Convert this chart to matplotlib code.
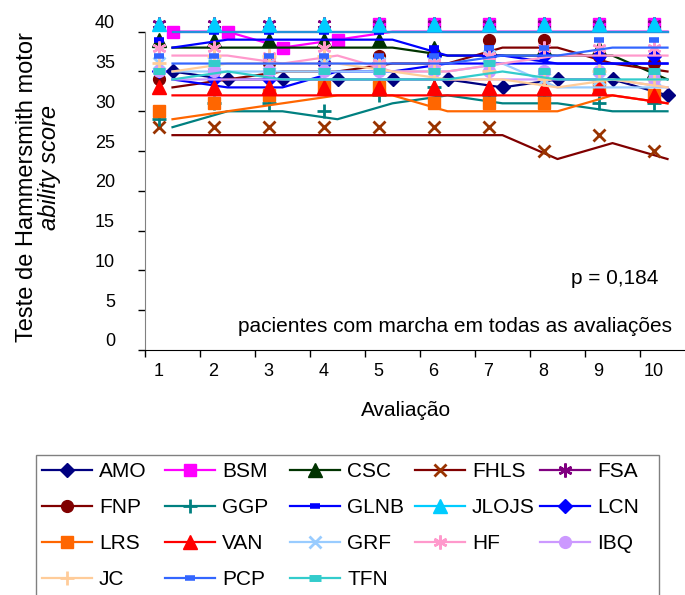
import numpy as np
import matplotlib
matplotlib.use("Agg")
import matplotlib.pyplot as plt
from matplotlib.lines import Line2D
from matplotlib.patches import Rectangle
from matplotlib.transforms import offset_copy

plt.rcParams['font.family'] = ['Liberation Sans', 'DejaVu Sans']

avaliacoes = [1, 2, 3, 4, 5, 6, 7, 8, 9, 10]
y_ticks = [0, 5, 10, 15, 20, 25, 30, 35, 40]

AMO = [35, 34, 34, 34, 34, 34, 33, 34, 34, 32]
BSM = [40, 40, 38, 39, 40, 40, 40, 40, 40, 40]
CSC = [38, 38, 38, 38, 38, 37, 37, 37, 37, 34]
FHLS = [27, 27, 27, 27, 27, 27, 27, 24, 26, 24]
FSA = [40, 40, 40, 40, 40, 40, 40, 40, 40, 40]
FNP = [33, 34, 35, 35, 36, 36, 38, 38, 36, 35]
GGP = [28, 30, 30, 29, 31, 32, 31, 31, 30, 30]
GLNB = [38, 39, 39, 39, 39, 37, 37, 36, 36, 36]
JLOJS = [40, 40, 40, 40, 40, 40, 40, 40, 40, 40]
LCN = [34, 33, 33, 35, 35, 36, 36, 36, 36, 36]
LRS = [29, 30, 31, 32, 32, 30, 30, 30, 32, 31]
VAN = [32, 32, 32, 32, 32, 32, 32, 32, 32, 31]
GRF = [35, 35, 35, 35, 35, 35, 36, 33, 33, 33]
HF = [37, 37, 36, 37, 35, 35, 36, 37, 37, 37]
IBQ = [34, 34, 34, 34, 34, 34, 34, 34, 34, 33]
JC = [35, 36, 36, 36, 35, 34, 34, 33, 34, 33]
PCP = [36, 36, 36, 36, 36, 36, 37, 37, 38, 38]
TFN = [34, 35, 34, 34, 34, 34, 35, 34, 34, 34]

pacientes = ['AMO', 'BSM', 'CSC', 'FHLS', 'FSA', 'FNP', 'GGP', 'GLNB', 'JLOJS',
             'LCN', 'LRS', 'VAN', 'GRF', 'HF', 'IBQ', 'JC', 'PCP', 'TFN']
valores = [AMO, BSM, CSC, FHLS, FSA, FNP, GGP, GLNB, JLOJS,
           LCN, LRS, VAN, GRF, HF, IBQ, JC, PCP, TFN]

STAR = (6, 2, 0)
# name: (line colour, marker, marker colour, size, edge width)
estilos = {
    'AMO': ('#000080', 'D', '#000080', 7.5, 1),
    'BSM': ('#FF00FF', 's', '#FF00FF', 8.5, 1),
    'CSC': ('#003300', '^', '#003300', 9.5, 1),
    'FHLS': ('#800000', 'x', '#993300', 8, 2),
    'FSA': ('#800080', STAR, '#800080', 10, 1.8),
    'FNP': ('#800000', 'o', '#800000', 8.5, 1),
    'GGP': ('#008080', '+', '#008080', 10, 2),
    'GLNB': ('#0000FF', '_', '#0000FF', 6.5, 4),
    'JLOJS': ('#00CCFF', '^', '#00CCFF', 9.5, 1),
    'LCN': ('#0000FF', 'D', '#0000FF', 7.5, 1),
    'LRS': ('#FF6600', 's', '#FF6600', 8.5, 1),
    'VAN': ('#FF0000', '^', '#FF0000', 9.5, 1),
    'GRF': ('#99CCFF', 'x', '#99CCFF', 8, 2),
    'HF': ('#FF99CC', STAR, '#FF99CC', 10, 1.8),
    'IBQ': ('#CC99FF', 'o', '#CC99FF', 8.5, 1),
    'JC': ('#FFCC99', '+', '#FFCC99', 10, 2),
    'PCP': ('#3366FF', '_', '#3366FF', 6.5, 4),
    'TFN': ('#33CCCC', '_', '#33CCCC', 9, 5),
}
# markers that sit on the line instead of the shifted marker layer
no_line = {'AMO': 10, 'BSM': 4}

fig = plt.figure(figsize=(6.85, 5.95), dpi=100)
W, H = 685.0, 595.0
ax = fig.add_axes([145 / W, 1 - 350 / H, 550 / W, 318.3 / H])
ax.set_xlim(0.5, 10.5)
ax.set_ylim(0, 40)

mk_tr = offset_copy(ax.transData, fig=fig, x=-14, y=8, units='dots')

for nome, vals in zip(pacientes, valores):
    cor, mk, mcor, ms, mew = estilos[nome]
    x = np.array(avaliacoes)
    y = np.array(vals)
    # the top line lets the ones below tint it a little
    alpha = 0.72 if nome == 'JLOJS' else 1
    ax.plot(x, y, color=cor, lw=1.6, alpha=alpha, clip_on=False)
    n = no_line.get(nome, 0)
    kw = dict(ls='none', marker=mk, ms=ms, mfc=mcor, mec=mcor, mew=mew, clip_on=False)
    if n:
        ax.plot(x[:n], y[:n], **kw)
    if n < len(x):
        ax.plot(x[n:], y[n:], transform=mk_tr, **kw)

ax.spines['top'].set_visible(False)
ax.spines['right'].set_visible(False)
ax.spines['left'].set_color('#808080')
ax.spines['bottom'].set_color('black')
ax.set_xticks(np.arange(0.5, 10.5, 1))
ax.set_yticks(y_ticks)
ax.tick_params(labelbottom=False, labelleft=False, direction='out', length=5, width=1, color='black')

# category and value labels, drawn in the shifted text layer
xl_tr = offset_copy(ax.transData, fig=fig, x=-14, y=-21, units='dots')
for c in avaliacoes:
    ax.text(c, 0, str(c), transform=xl_tr, ha='center', va='center', fontsize=13)
yl_tr = offset_copy(ax.transData, fig=fig, x=-30, y=8, units='dots')
for v in y_ticks:
    ax.text(0.5, v, str(v), transform=yl_tr, ha='right', va='center', fontsize=13)

fig.text(27 / W, 1 - 187 / H, 'Teste de Hammersmith motor', rotation=90,
         ha='center', va='center', fontsize=17)
fig.text(50 / W, 1 - 167 / H, 'ability score', rotation=90, style='italic',
         ha='center', va='center', fontsize=17)
fig.text(406 / W, 1 - 410 / H, 'Avaliação', ha='center', va='center', fontsize=15)
fig.text(615 / W, 1 - 278 / H, 'p = 0,184', ha='center', va='center', fontsize=15)
fig.text(455 / W, 1 - 327 / H, 'pacientes com marcha em todas as avaliações',
         ha='center', va='center', fontsize=15)

# legend: five columns, rows go across
fig.add_artist(Rectangle((36 / W, -0.01), (659 - 36) / W, (1 - 455 / H) + 0.01,
                         transform=fig.transFigure, fill=False, ec='#808080', lw=1))
col_x = [42, 165, 290, 415, 540]
for j, x0 in enumerate(col_x):
    handles = []
    labels = []
    for nome in pacientes[j::5]:
        cor, mk, mcor, ms, mew = estilos[nome]
        handles.append(Line2D([], [], color=cor, lw=1.6, marker=mk, ms=ms,
                              mfc=mcor, mec=mcor, mew=mew))
        labels.append(nome)
    fig.legend(handles, labels, loc='upper left', bbox_to_anchor=(x0 / W, 1 - 462 / H),
               frameon=False, fontsize=15, handlelength=2.4, handletextpad=0.34,
               labelspacing=0.82, borderpad=0, borderaxespad=0, numpoints=1)

fig.savefig('out.png', dpi=100)
